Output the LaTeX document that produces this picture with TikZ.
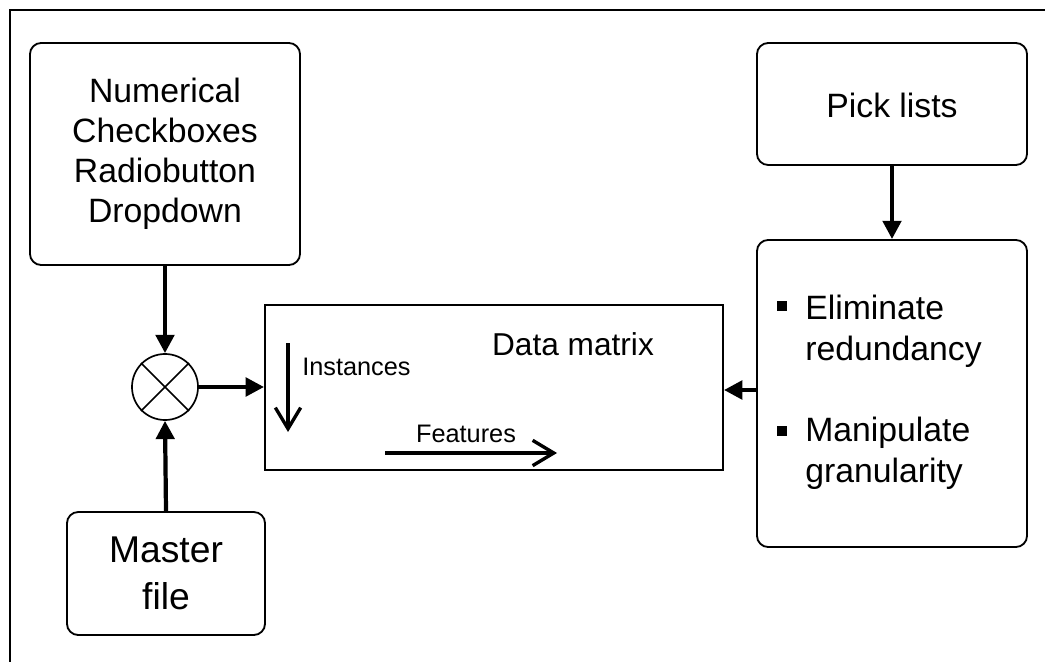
\documentclass[tikz,border=0pt]{standalone}
\usepackage{fontspec}
\setmainfont{Liberation Sans}
\usetikzlibrary{arrows.meta}

\begin{document}
\begin{tikzpicture}[x=0.025cm, y=-0.025cm,
        blok/.style={draw, line width=1.3pt, rounded corners=8pt, align=center, inner sep=0pt},
        bigtxt/.style={font=\fontsize{24}{28.5}\selectfont},
        flow/.style={line width=3pt, -{Triangle[length=13pt, width=13pt]}},
        axisarrow/.style={line width=2.4pt, -{Straight Barb[length=15pt, width=18pt]}},
        bulletsq/.style={fill=black, minimum size=0.25cm, inner sep=0pt}]
                \useasboundingbox (0,0) rectangle (1045,662);
                \draw[line width=0.8pt] (10,662) -- (10,10) -- (1045,10);
                \node[blok, bigtxt, minimum width=6.75cm, minimum height=5.55cm] (inputs) at (165,154) {Numerical\\Checkboxes\\Radiobutton\\Dropdown};
                \node[draw, circle, line width=1.2pt, minimum size=1.65cm, inner sep=0pt] (mix) at (165,387) {};
                \draw[line width=1.2pt] (mix.north west) -- (mix.south east) (mix.north east) -- (mix.south west);
                \node[blok, minimum width=4.95cm, minimum height=3.075cm, font=\fontsize{26.5}{33.5}\selectfont] (master) at (166,573.5) {Master\\file};
                \node[draw, line width=1.3pt, minimum width=11.45cm, minimum height=4.125cm, inner sep=0pt] (matrix) at (494,387.5) {};
                \node[anchor=base, font=\fontsize{22.5}{26}\selectfont] (mtitle) at (573,355) {Data matrix};
                \coordinate (inst1) at (288,343);
                \coordinate (inst2) at (288,432);
                \coordinate (feat1) at (385,453);
                \coordinate (feat2) at (557,453);
                \draw[axisarrow] (inst1) -- (inst2);
                \draw[axisarrow] (feat1) -- (feat2);
                \node[anchor=base west, inner sep=0pt, font=\fontsize{18}{20}\selectfont] (instlbl) at (302,375) {Instances};
                \node[anchor=base, inner sep=0pt, font=\fontsize{18}{20}\selectfont] (featlbl) at (466,442) {Features};
                \node[blok, bigtxt, minimum width=6.75cm, minimum height=3.05cm] (pick) at (892,104) {};
                \node[anchor=base, inner sep=0pt, bigtxt] (picklbl) at (892,118) {Pick lists};
                \node[blok, minimum width=6.75cm, minimum height=7.675cm] (clean) at (892,393.5) {};
                \node[bulletsq] (b1) at (782,306) {};
                \node[bulletsq] (b2) at (782,431) {};
                \node[anchor=base west, inner sep=0pt, bigtxt, align=left] (item1) at (805,360) {Eliminate\\redundancy};
                \node[anchor=base west, inner sep=0pt, bigtxt, align=left] (item2) at (805,482) {Manipulate\\granularity};
                \draw[flow] (inputs.south) -- (mix.north);
                \draw[flow] (master.north) -- (mix.south);
                \draw[flow] (mix.east) -- (matrix.west |- mix.east);
                \draw[flow] (pick.south) -- (clean.north);
                \draw[flow] (clean.west |- 0,390) -- (matrix.east |- 0,390);
            \end{tikzpicture}
\end{document}
